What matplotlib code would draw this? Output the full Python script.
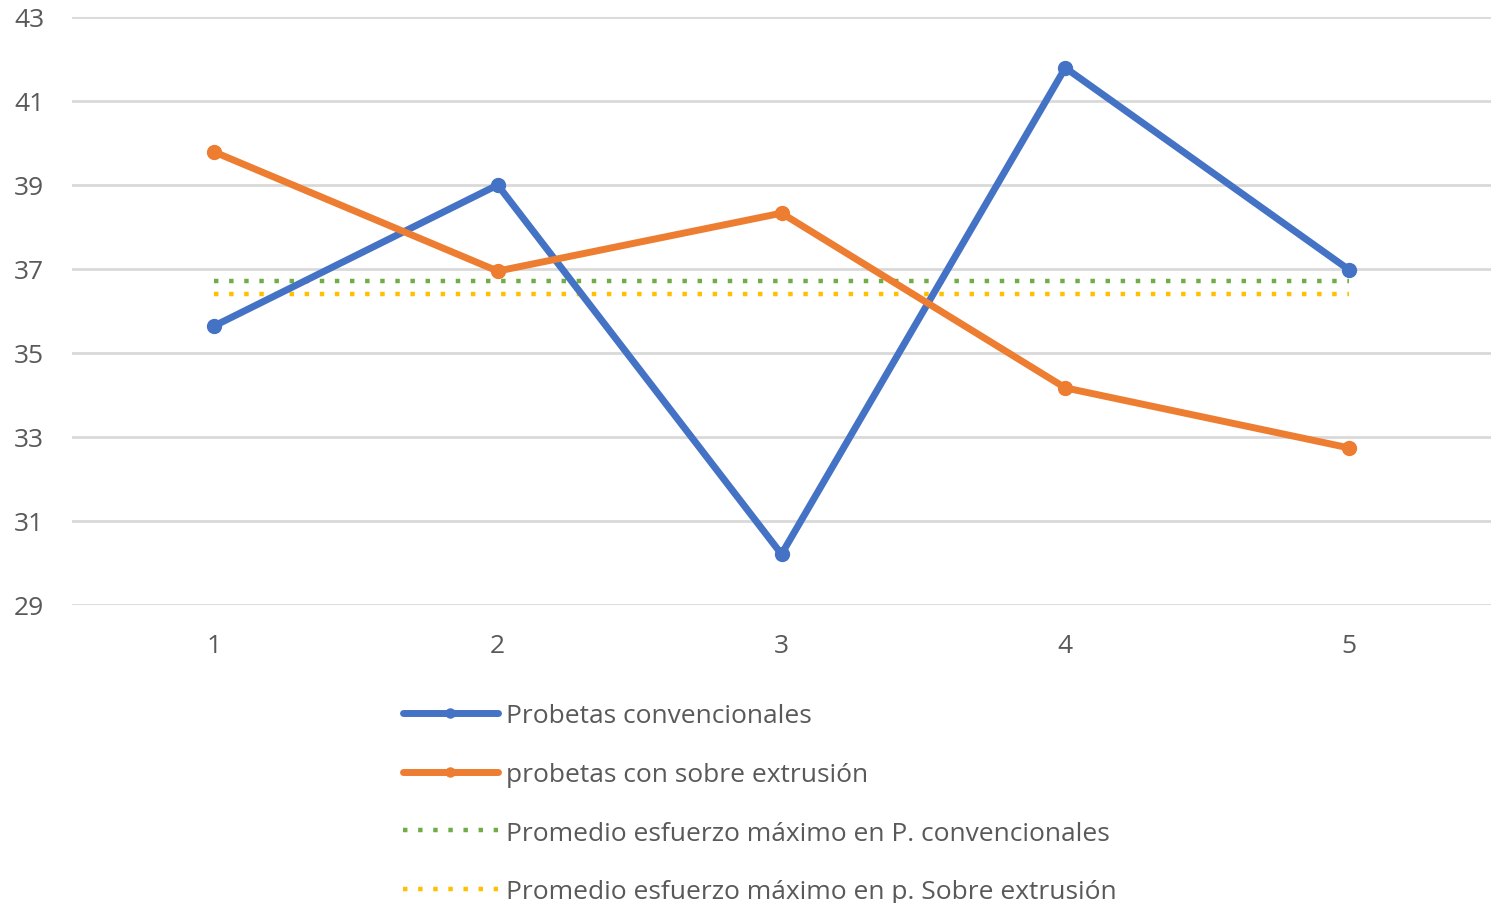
import matplotlib
matplotlib.use("Agg")
import matplotlib.pyplot as plt

plt.rcParams['font.family'] = ['Open Sans', 'DejaVu Sans']

ensayos = [1, 2, 3, 4, 5]
convencionales = [35.64, 39.00, 30.21, 41.79, 36.98]
sobre_extrusion = [39.79, 36.95, 38.33, 34.17, 32.74]
prom_convencionales = 36.72
prom_sobre_extrusion = 36.40
y_ticks = [29, 31, 33, 35, 37, 39, 41, 43]

labels = [
    "Probetas convencionales",
    "probetas con sobre extrusión",
    "Promedio esfuerzo máximo en P. convencionales",
    "Promedio esfuerzo máximo en p. Sobre extrusión",
]

text_color = "#595959"
grid_color = "#D9D9D9"
fs = 19

fig = plt.figure(figsize=(14.91, 9.04), dpi=100)
ax = fig.add_axes([72 / 1491, 1 - 606 / 904, (1491 - 72) / 1491, (606 - 18) / 904])

ax.plot(ensayos, convencionales, color="#4472C4", lw=5, marker="o", ms=10,
        solid_capstyle="round", label=labels[0], zorder=4)
ax.plot(ensayos, sobre_extrusion, color="#ED7D31", lw=5, marker="o", ms=10,
        solid_capstyle="round", label=labels[1], zorder=4)
ax.plot([ensayos[0], ensayos[-1]], [prom_convencionales] * 2, color="#70AD47",
        lw=3.2, linestyle=(0, (1, 2.4)), label=labels[2], zorder=3)
ax.plot([ensayos[0], ensayos[-1]], [prom_sobre_extrusion] * 2, color="#FFC000",
        lw=3.2, linestyle=(0, (1, 2.4)), label=labels[3], zorder=3)

ax.set_xlim(0.5, 5.5)
ax.set_ylim(29, 43)
ax.set_yticks(y_ticks)
ax.set_xticks(ensayos)
ax.yaxis.grid(True, color=grid_color, lw=2)
ax.set_axisbelow(True)
for s in ax.spines.values():
    s.set_visible(False)
ax.tick_params(axis="both", length=0, labelsize=fs, colors=text_color)
ax.tick_params(axis="y", pad=20)
ax.tick_params(axis="x", pad=20)

handles, lbls = ax.get_legend_handles_labels()
leg = fig.legend(handles, lbls, loc="upper left",
                 bbox_to_anchor=(403 / 1491, 1 - 704 / 904),
                 frameon=False, fontsize=fs, handlelength=3.6,
                 handletextpad=0.3, labelspacing=1.28, borderaxespad=0,
                 borderpad=0, markerscale=0.65)
for t in leg.get_texts():
    t.set_color(text_color)

fig.savefig("out.png", dpi=100, facecolor="white")
